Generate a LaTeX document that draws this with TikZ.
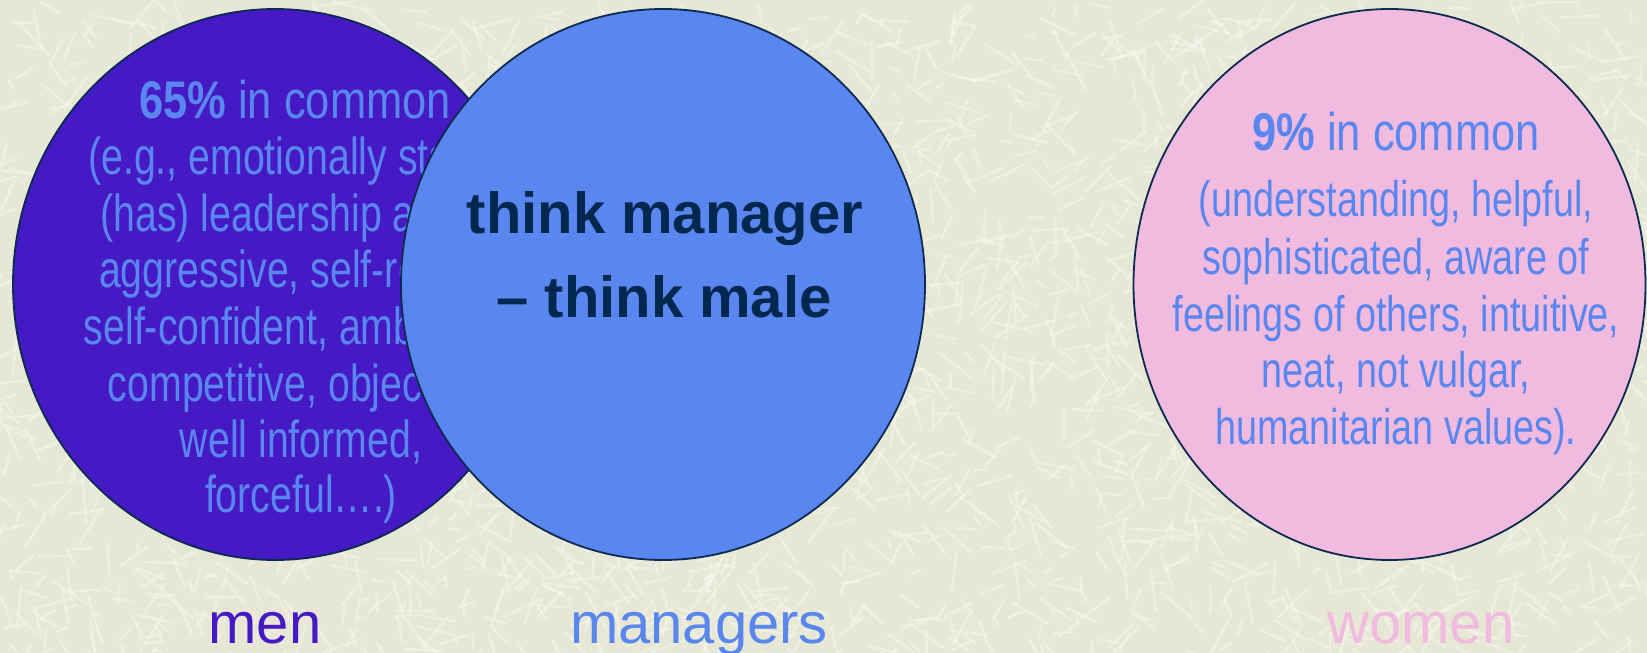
\documentclass[tikz,border=0pt]{standalone}
\usepackage{fontspec}
\setmainfont{Liberation Sans}
\newfontfamily\narrowsans{Liberation Sans}[FakeStretch=0.82]
\newfontfamily\tallsans{Liberation Sans}[FakeStretch=0.755]
\usetikzlibrary{shapes.geometric}

\definecolor{paper}{HTML}{E7E7D6}
\definecolor{streak}{HTML}{F8F8F0}
\definecolor{menfill}{HTML}{4519C4}
\definecolor{mgrfill}{HTML}{5A87EF}
\definecolor{womenfill}{HTML}{F1BBE0}
\definecolor{rim}{HTML}{0C2A52}
\definecolor{navy}{HTML}{00284F}

\tikzset{
  blob/.style={ellipse, draw=rim, line width=1.8pt, inner sep=0pt,
    minimum height=551pt},
  headline/.style={anchor=base, inner sep=0pt, text=mgrfill,
    font={\narrowsans\fontsize{53pt}{53pt}\selectfont}},
  menline/.style={anchor=base, inner sep=0pt, text=mgrfill,
    font={\tallsans\fontsize{52pt}{52pt}\selectfont}},
  womenline/.style={anchor=base, inner sep=0pt, text=mgrfill,
    font={\tallsans\fontsize{50pt}{50pt}\selectfont}},
  slogan/.style={anchor=base, inner sep=0pt, text=navy,
    font={\bfseries\fontsize{58pt}{58pt}\selectfont}},
  setname/.style={anchor=base, inner sep=0pt,
    font={\fontsize{58pt}{58pt}\selectfont}}
}

\begin{document}
\begin{tikzpicture}[x=1pt, y=-1pt]
  \useasboundingbox (0,0) rectangle (1647,653);

  % textured paper background
  \begin{scope}
    \clip (0,0) rectangle (1647,653);
    \fill[paper] (0,0) rectangle (1647,653);
    \pgfmathsetseed{1234}
    \foreach \k in {1,...,2600}{
      \pgfmathsetmacro\px{1647*rnd}
      \pgfmathsetmacro\py{653*rnd}
      \pgfmathsetmacro\ang{180*rnd}
      \pgfmathsetmacro\len{8+34*rnd}
      \draw[streak, line width=2.6pt, line cap=round, opacity=0.45]
        (\px,\py) -- ++(\ang:\len);
    }
  \end{scope}

  % men
  \node[blob, fill=menfill, minimum width=524pt] (men) at (275,284.5) {};
  \node[headline] (menhead) at (295,118) {{\bfseries 65\%} in common};
  \foreach \t/\y [count=\i] in {
      {(e.g., emotionally stable,}/174,
      {(has) leadership ability,}/231,
      {aggressive, self-reliant,}/287,
      {self-confident, ambitious,}/344,
      {competitive, objective,}/401,
      {well informed,}/457,
      {forceful….)}/512}
    \node[menline] (menl\i) at (301,\y) {\t};

  % managers
  \node[blob, fill=mgrfill, minimum width=524pt] (mgr) at (663,284.5) {};
  \node[slogan] (slogan1) at (665,233) {think manager};
  \node[slogan] (slogan2) at (664,317) {– think male};

  % women
  \node[blob, fill=womenfill, minimum width=512pt] (women) at (1389.5,284.5) {};
  \node[headline] (womenhead) at (1396,150) {{\bfseries 9\%} in common};
  \foreach \t/\y [count=\i] in {
      {(understanding, helpful,}/216,
      {sophisticated, aware of}/274,
      {feelings of others, intuitive,}/331,
      {neat, not vulgar,}/387,
      {humanitarian values).}/444}
    \node[womenline] (womenl\i) at (1396,\y) {\t};

  % set names
  \node[setname, text=menfill] (menlabel) at (265,643) {men};
  \node[setname, text=mgrfill] (mgrlabel) at (699,643) {managers};
  \node[setname, text=womenfill] (womenlabel) at (1421,643) {women};
\end{tikzpicture}
\end{document}
